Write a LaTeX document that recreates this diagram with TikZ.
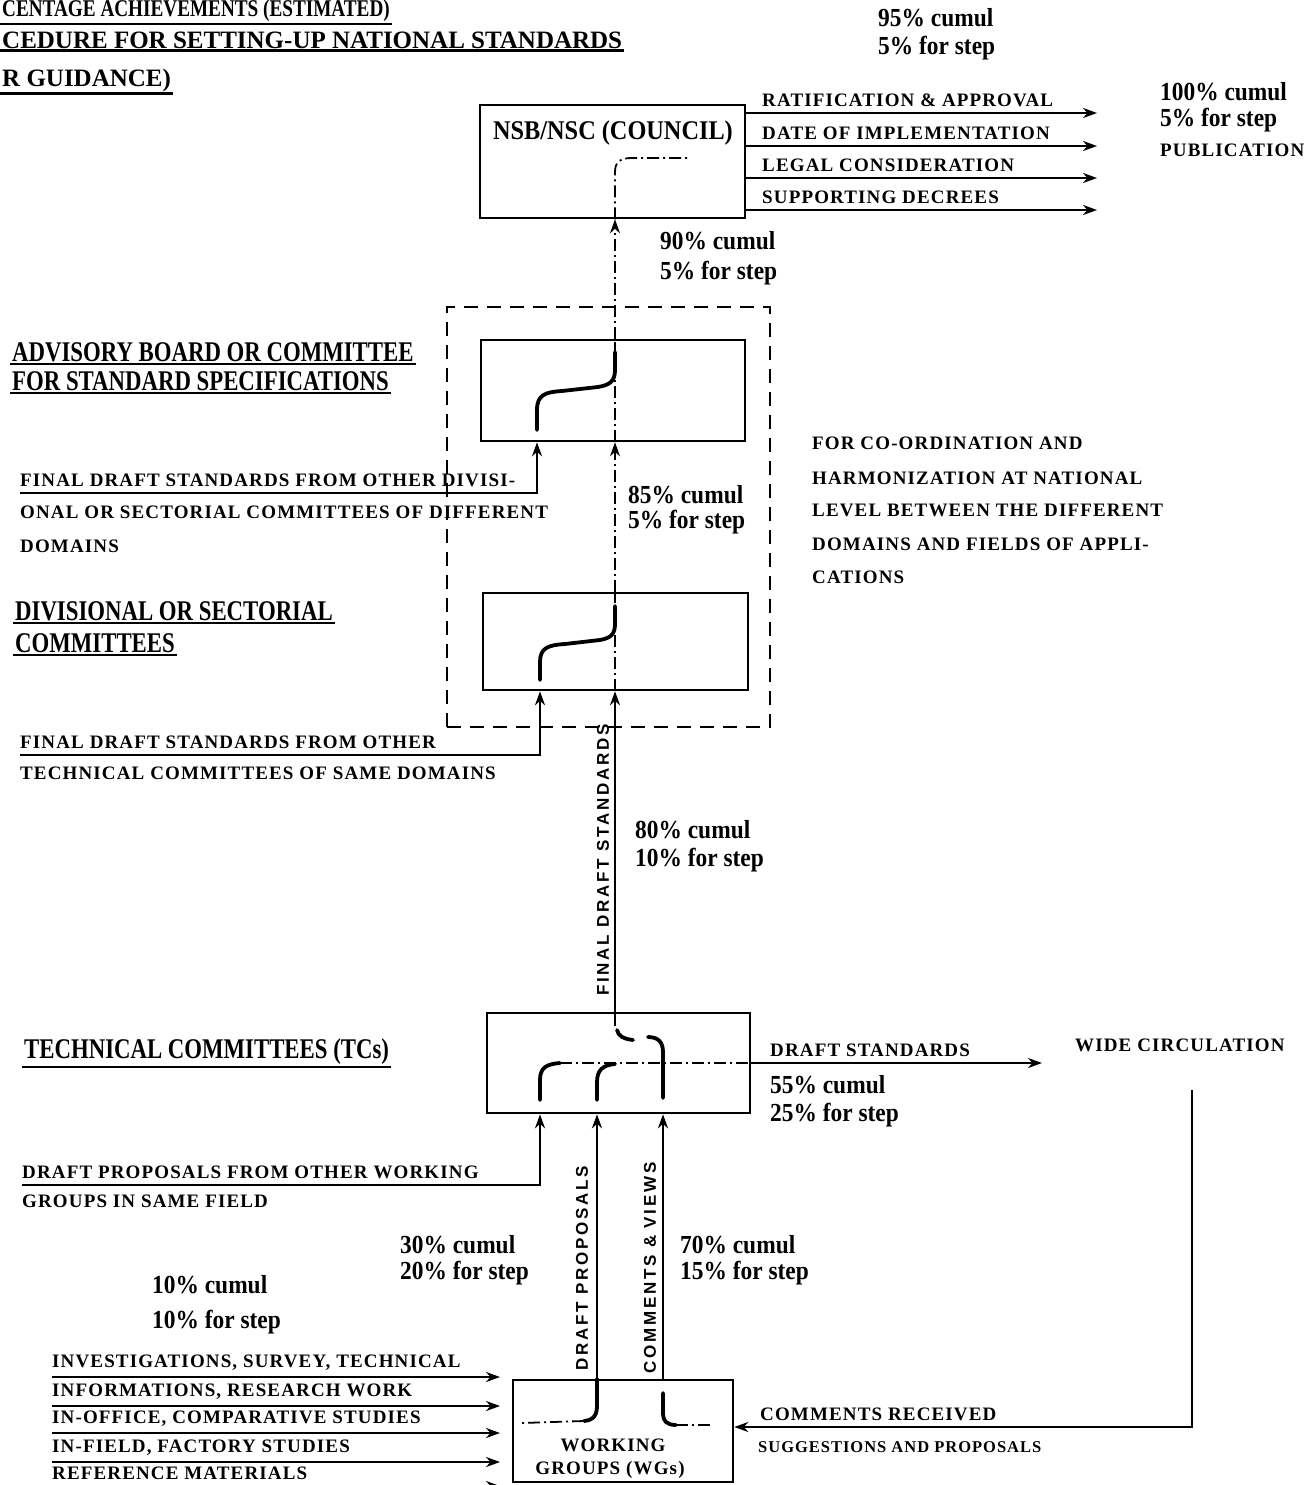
\documentclass[tikz,border=0pt]{standalone}
\usepackage{fontspec}
\setmainfont{Liberation Serif}
\newfontfamily\condf[FakeStretch=0.8]{Liberation Serif}
\newfontfamily\pctf[FakeStretch=0.9]{Liberation Serif}
\newfontfamily\lblf[LetterSpace=6]{Liberation Serif}
\newfontfamily\vertf[LetterSpace=16]{Liberation Sans}
\usetikzlibrary{arrows.meta}
\begin{document}
\begin{tikzpicture}[x=1pt,y=-1pt,
  boxn/.style={draw, line width=2.6pt, inner sep=0pt},
  outerd/.style={draw, line width=2.6pt, dash pattern=on 14pt off 9pt, inner sep=0pt},
  hd/.style={font=\condf\bfseries\fontsize{28.5}{31}\selectfont, inner sep=2pt},
  hdw/.style={font=\bfseries\fontsize{25}{28}\selectfont, inner sep=2pt},
  pc/.style={font=\pctf\bfseries\fontsize{26}{28}\selectfont, anchor=west, inner sep=0pt},
  lb/.style={font=\lblf\bfseries\fontsize{19}{21}\selectfont, inner sep=0pt},
  onl/.style={lb, anchor=south west, inner xsep=0pt, inner ysep=6pt},
  vt/.style={font=\vertf\bfseries\fontsize{17}{19}\selectfont, rotate=90, inner sep=0pt},
  fl/.style={line width=2.5pt, -{Stealth[length=14pt,width=10pt]}},
  ln/.style={line width=2.5pt},
  crv/.style={line width=3.8pt, line cap=round},
  dd/.style={line width=1.8pt, dash pattern=on 12pt off 4pt on 2pt off 4pt},
  ul/.style={line width=2.5pt}]
\useasboundingbox (0,0) rectangle (1307,1485);

% ---------- header ----------
\node[hd, font=\condf\bfseries\fontsize{24}{26}\selectfont, anchor=west] (h1) at (0,11) {CENTAGE ACHIEVEMENTS (ESTIMATED)};
\draw[ul] (h1.south west) -- (h1.south east);
\node[hdw, anchor=west] (h2) at (0,40) {CEDURE FOR SETTING-UP NATIONAL STANDARDS};
\draw[ul] (h2.south west) -- (h2.south east);
\node[hdw, anchor=west] (h3) at (0,80) {R GUIDANCE)};
\draw[ul] (h3.south west) -- (h3.south east);

\node[pc] (p95a) at (878,18) {95\% cumul};
\node[pc] (p95b) at (878,48) {5\% for step};

% ---------- coordinates for vertical lines ----------
\coordinate (mx) at (615,0);
\coordinate (advinx) at (537,0);
\coordinate (divinx) at (540,0);
\coordinate (tcinx) at (540,0);
\coordinate (dpx) at (597,0);
\coordinate (cvx) at (663,0);
\coordinate (rend) at (1097,0);
\coordinate (inend) at (500,0);

% ---------- NSB / NSC ----------
\node[boxn, minimum width=265pt, minimum height=113pt] (nsb) at (612.5,161.5) {};
\node[inner sep=0pt, font=\pctf\bfseries\fontsize{27}{29}\selectfont] (nsbt) at (613,133) {NSB/NSC (COUNCIL)};

\node[onl] (r1) at (762,113) {RATIFICATION \& APPROVAL};
\node[onl] (r2) at (762,146) {DATE OF IMPLEMENTATION};
\node[onl] (r3) at (762,178) {LEGAL CONSIDERATION};
\node[onl] (r4) at (762,210) {SUPPORTING DECREES};
\draw[fl] (nsb.east |- r1.south) -- (r1.south -| rend);
\draw[fl] (nsb.east |- r2.south) -- (r2.south -| rend);
\draw[fl] (nsb.east |- r3.south) -- (r3.south -| rend);
\draw[fl] (nsb.east |- r4.south) -- (r4.south -| rend);

\node[pc] (p100a) at (1160,92) {100\% cumul};
\node[pc] (p100b) at (1160,120) {5\% for step};
\node[lb, anchor=west] (pub) at (1160,150) {PUBLICATION};

% ---------- outer dashed box ----------
\node[outerd, minimum width=323pt, minimum height=420pt] (outer) at (608.5,517) {};

% ---------- advisory board ----------
\node[boxn, minimum width=264pt, minimum height=101pt] (adv) at (613,390.5) {};
\node[hd, anchor=west] (advt1) at (10,352) {ADVISORY BOARD OR COMMITTEE};
\draw[ul] (advt1.south west) -- (advt1.south east);
\node[hd, anchor=west] (advt2) at (10,381) {FOR STANDARD SPECIFICATIONS};
\draw[ul] (advt2.south west) -- (advt2.south east);

% NSB link
\draw[dd, -{Stealth[length=14pt,width=10pt]}] (adv.north -| mx) -- (nsb.south -| mx);
\draw[dd] (nsb.south -| mx) -- (615,172) .. controls (615,162) and (620,158) .. (632,158) -- (690,158);
\node[pc] (p90a) at (660,241) {90\% cumul};
\node[pc] (p90b) at (660,273) {5\% for step};

% advisory inner
\draw[dd] (adv.south -| mx) -- (adv.north -| mx);
\draw[crv] (537,430) -- (537,410) .. controls (537,395) and (545,392) .. (562,391) -- (598,387) .. controls (610,385) and (615,381) .. (615,370) -- (615,352);

\node[onl] (fdd1) at (20,493) {FINAL DRAFT STANDARDS FROM OTHER DIVISI-};
\node[lb, anchor=west] (fdd2) at (20,512) {ONAL OR SECTORIAL COMMITTEES OF DIFFERENT};
\node[lb, anchor=west] (fdd3) at (20,546) {DOMAINS};

% ---------- divisional ----------
\node[boxn, minimum width=265pt, minimum height=97pt] (div) at (615.5,641.5) {};
\node[hd, anchor=west] (divt1) at (13,611) {DIVISIONAL OR SECTORIAL};
\draw[ul] (divt1.south west) -- (divt1.south east);
\node[hd, anchor=west] (divt2) at (13,643) {COMMITTEES};
\draw[ul] (divt2.south west) -- (divt2.south east);

\draw[fl] (fdd1.south west) -| (adv.south -| advinx);
\draw[dd, -{Stealth[length=14pt,width=10pt]}] (div.north -| mx) -- (adv.south -| mx);
\node[pc] (p85a) at (628,495) {85\% cumul};
\node[pc] (p85b) at (628,522) {5\% for step};

\draw[dd] (div.south -| mx) -- (div.north -| mx);
\draw[crv] (540,680) -- (540,662) .. controls (540,648) and (548,645) .. (565,644) -- (600,640) .. controls (611,638) and (615,634) .. (615,624) -- (615,606);

\node[lb, anchor=west] (co1) at (812,443) {FOR CO-ORDINATION AND};
\node[lb, anchor=west] (co2) at (812,478) {HARMONIZATION AT NATIONAL};
\node[lb, anchor=west] (co3) at (812,510) {LEVEL BETWEEN THE DIFFERENT};
\node[lb, anchor=west] (co4) at (812,544) {DOMAINS AND FIELDS OF APPLI-};
\node[lb, anchor=west] (co5) at (812,577) {CATIONS};

\node[onl] (fdt1) at (20,755) {FINAL DRAFT STANDARDS FROM OTHER};
\node[lb, anchor=west] (fdt2) at (20,773) {TECHNICAL COMMITTEES OF SAME DOMAINS};
\draw[fl] (fdt1.south west) -| (div.south -| divinx);

% ---------- technical committees ----------
\node[boxn, minimum width=263pt, minimum height=100pt] (tc) at (618.5,1063) {};
\node[hd, anchor=west] (tct) at (22,1052) {TECHNICAL COMMITTEES (TCs)};
\draw[ul] (tct.south west) -- (tct.south east);

\draw[fl] (tc.north -| mx) -- (div.south -| mx);
\node[vt] (fdsv) at (603,860) {FINAL DRAFT STANDARDS};
\node[pc] (p80a) at (635,830) {80\% cumul};
\node[pc] (p80b) at (635,860) {10\% for step};

% TC inner
\node[onl] (ds) at (770,1063) {DRAFT STANDARDS};
\coordinate (dsend) at (1042,0);
\draw[dd] (560,1063) -- (tc.east |- ds.south);
\draw[fl] (tc.east |- ds.south) -- (ds.south -| dsend);
\node[lb, anchor=west] (wc) at (1075,1045) {WIDE CIRCULATION};
\node[pc] (p55a) at (770,1085) {55\% cumul};
\node[pc] (p55b) at (770,1115) {25\% for step};

\draw[ln] (tc.north -| mx) -- (615,1026);
\draw[crv] (617,1030) .. controls (618,1036) and (624,1039) .. (633,1040);
\draw[crv] (648,1037) .. controls (658,1037) and (663,1042) .. (663,1052) -- (663,1098);
\draw[crv] (540,1100) -- (540,1080) .. controls (540,1068) and (546,1064) .. (560,1063);
\draw[crv] (597,1100) -- (597,1082) .. controls (597,1070) and (603,1065) .. (615,1064);

\node[onl] (dpo) at (22,1185) {DRAFT PROPOSALS FROM OTHER WORKING};
\node[lb, anchor=west] (dpo2) at (22,1201) {GROUPS IN SAME FIELD};
\draw[fl] (dpo.south west) -| (tc.south -| tcinx);

% ---------- working groups ----------
\node[boxn, minimum width=220pt, minimum height=102pt] (wg) at (623,1431) {};
\node[lb] (wgt1) at (613,1445) {WORKING};
\node[lb] (wgt2) at (610,1470) {GROUPS (WGs)};

\draw[fl] (wg.north -| dpx) -- (tc.south -| dpx);
\draw[fl] (wg.north -| cvx) -- (tc.south -| cvx);
\node[vt] (dpv) at (582,1268) {DRAFT PROPOSALS};
\node[vt] (cvv) at (650,1268) {COMMENTS \& VIEWS};

\draw[crv] (wg.north -| dpx) -- (597,1405) .. controls (597,1415) and (594,1420) .. (584,1421);
\draw[dd] (584,1421) -- (522,1423);
\draw[crv] (663,1393) -- (663,1414) .. controls (663,1421) and (667,1425) .. (676,1425);
\draw[dd] (676,1425) -- (712,1425);

\node[pc] (p30a) at (400,1245) {30\% cumul};
\node[pc] (p30b) at (400,1273) {20\% for step};
\node[pc] (p70a) at (680,1245) {70\% cumul};
\node[pc] (p70b) at (680,1273) {15\% for step};
\node[pc] (p10a) at (152,1285) {10\% cumul};
\node[pc] (p10b) at (152,1322) {10\% for step};

% inputs into working groups
\node[onl] (i1) at (52,1377) {INVESTIGATIONS, SURVEY, TECHNICAL};
\node[onl] (i2) at (52,1406) {INFORMATIONS, RESEARCH WORK};
\node[onl] (i3) at (52,1433) {IN-OFFICE, COMPARATIVE STUDIES};
\node[onl] (i4) at (52,1462) {IN-FIELD, FACTORY STUDIES};
\node[onl] (i5) at (52,1486) {REFERENCE MATERIALS};
\draw[fl] (i1.south west) -- (i1.south -| inend);
\draw[fl] (i2.south west) -- (i2.south -| inend);
\draw[fl] (i3.south west) -- (i3.south -| inend);
\draw[fl] (i4.south west) -- (i4.south -| inend);
\draw[fl] (i5.south west) -- (i5.south -| inend);

% comments loop
\coordinate (cl) at (1192,1090);
\node[onl] (cr) at (760,1427) {COMMENTS RECEIVED};
\node[lb, font=\lblf\bfseries\fontsize{16.5}{19}\selectfont, anchor=west] (sp) at (758,1447) {SUGGESTIONS AND PROPOSALS};
\draw[fl] (cl) |- (wg.east |- cr.south);
\end{tikzpicture}
\end{document}
